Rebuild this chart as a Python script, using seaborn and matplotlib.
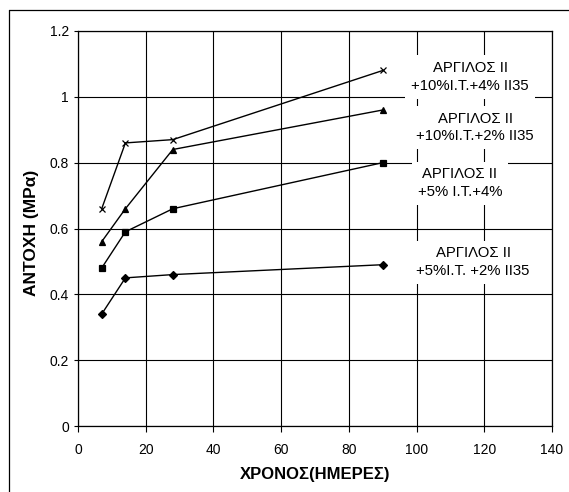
import matplotlib
matplotlib.use("Agg")
import matplotlib.pyplot as plt
from matplotlib.lines import Line2D
import seaborn as sns
import pandas as pd

# Curing age (days) and compressive strength (MPa) of each mix
days = [7, 14, 28, 90]
mix_10fa_4c = [0.66, 0.86, 0.87, 1.08]
mix_10fa_2c = [0.56, 0.66, 0.84, 0.96]
mix_5fa_4c = [0.48, 0.59, 0.66, 0.80]
mix_5fa_2c = [0.34, 0.45, 0.46, 0.49]

mix_labels = [
    "ΑΡΓΙΛΟΣ ΙΙ\n+10%Ι.Τ.+4% ΙΙ35",
    "ΑΡΓΙΛΟΣ ΙΙ\n+10%Ι.Τ.+2% ΙΙ35",
    "ΑΡΓΙΛΟΣ ΙΙ\n+5% Ι.Τ.+4%",
    "ΑΡΓΙΛΟΣ ΙΙ\n+5%Ι.Τ. +2% ΙΙ35",
]
label_x = [115.8, 117.3, 112.8, 116.7]
label_y = [1.06, 0.907, 0.737, 0.497]

x_ticks = [0, 20, 40, 60, 80, 100, 120, 140]
y_ticks = [0, 0.2, 0.4, 0.6, 0.8, 1.0, 1.2]
y_tick_labels = ["0", "0.2", "0.4", "0.6", "0.8", "1", "1.2"]

sns.set_style("ticks")
plt.rcParams["font.family"] = ["Liberation Sans", "DejaVu Sans"]
plt.rcParams["text.color"] = "black"
plt.rcParams["axes.labelcolor"] = "black"

fig = plt.figure(figsize=(5.69, 4.92), dpi=100)
ax = fig.add_axes([78 / 569, 1 - 426 / 492, (552 - 78) / 569, (426 - 31) / 492])

series = [mix_10fa_4c, mix_10fa_2c, mix_5fa_4c, mix_5fa_2c]
markers = ["x", "^", "s", "D"]
msizes = [4.5, 5, 4.5, 3.8]
for vals, m, ms in zip(series, markers, msizes):
    df = pd.DataFrame({"days": days, "strength": vals})
    sns.lineplot(data=df, x="days", y="strength", ax=ax, color="black",
                 marker=m, markersize=ms, markeredgecolor="black",
                 markerfacecolor="black", markeredgewidth=0.9,
                 linewidth=1.0, zorder=3)

ax.set_xlim(0, 140)
ax.set_ylim(0, 1.2)
ax.set_xticks(x_ticks)
ax.set_yticks(y_ticks)
ax.set_yticklabels(y_tick_labels)
ax.grid(True, color="black", linewidth=0.8, zorder=0)
ax.set_axisbelow(True)
for s in ax.spines.values():
    s.set_color("black")
    s.set_linewidth(0.9)
ax.tick_params(axis="y", direction="out", length=3, width=0.8, pad=3.5,
               labelsize=10, colors="black")
ax.tick_params(axis="x", direction="out", length=4.5, width=0.8, pad=8,
               labelsize=10, colors="black")

ax.set_xlabel("ΧΡΟΝΟΣ(ΗΜΕΡΕΣ)", fontsize=12, fontweight="bold", color="black")
ax.set_ylabel("ΑΝΤΟΧΗ (MPα)", fontsize=12.5, fontweight="bold", color="black")
ax.xaxis.set_label_coords(0.5, -0.103)
ax.yaxis.set_label_coords(-0.083, 0.49)

for txt, lx, ly in zip(mix_labels, label_x, label_y):
    ax.text(lx, ly, txt, ha="center", va="center", fontsize=10.7,
            linespacing=1.35, zorder=4, color="black",
            bbox=dict(boxstyle="square,pad=0.4", fc="white", ec="none"))

# outer chart frame (left and top edges)
fig.add_artist(Line2D([8.5 / 569, 8.5 / 569], [1 - 10 / 492, 0],
                      transform=fig.transFigure, color="black", lw=0.9))
fig.add_artist(Line2D([8.5 / 569, 1], [1 - 10 / 492, 1 - 10 / 492],
                      transform=fig.transFigure, color="black", lw=0.9))

fig.savefig("out.png", dpi=100)
